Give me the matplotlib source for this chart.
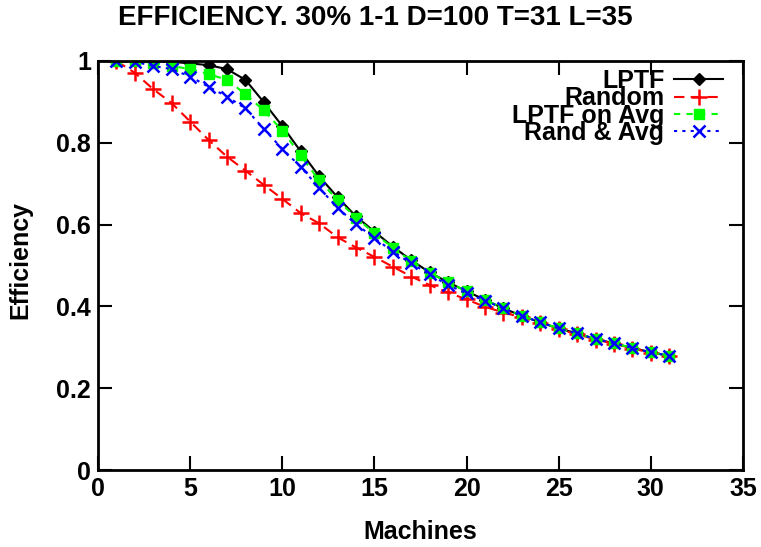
import matplotlib
matplotlib.use("Agg")
import matplotlib.pyplot as plt

machines = list(range(1, 32))

lptf = [1.000, 1.000, 1.000, 0.998, 0.994, 0.990, 0.980, 0.954, 0.899, 0.841,
        0.779, 0.718, 0.667, 0.620, 0.583, 0.546, 0.513, 0.483, 0.459, 0.437,
        0.416, 0.395, 0.377, 0.361, 0.346, 0.334, 0.320, 0.310, 0.298, 0.288,
        0.279]
random_ = [1.000, 0.971, 0.931, 0.897, 0.852, 0.807, 0.766, 0.732, 0.697, 0.663,
           0.628, 0.603, 0.569, 0.544, 0.521, 0.497, 0.473, 0.452, 0.434, 0.417,
           0.399, 0.385, 0.373, 0.359, 0.344, 0.332, 0.319, 0.309, 0.297, 0.287,
           0.278]
lptf_avg = [1.000, 1.000, 0.996, 0.988, 0.980, 0.968, 0.954, 0.919, 0.879, 0.830,
            0.769, 0.708, 0.660, 0.617, 0.579, 0.543, 0.511, 0.482, 0.459, 0.437,
            0.416, 0.395, 0.377, 0.361, 0.346, 0.334, 0.320, 0.310, 0.298, 0.288,
            0.279]
rand_avg = [1.000, 0.998, 0.988, 0.980, 0.962, 0.937, 0.913, 0.884, 0.834, 0.785,
            0.741, 0.690, 0.641, 0.601, 0.567, 0.534, 0.505, 0.478, 0.452, 0.432,
            0.414, 0.395, 0.377, 0.361, 0.346, 0.334, 0.320, 0.310, 0.298, 0.288,
            0.279]

x_ticks = [0, 5, 10, 15, 20, 25, 30, 35]
y_ticks = [0, 0.2, 0.4, 0.6, 0.8, 1]
y_tick_labels = ["0", "0.2", "0.4", "0.6", "0.8", "1"]

plt.rcParams["font.family"] = ["Liberation Sans", "DejaVu Sans"]
plt.rcParams["font.weight"] = "bold"

fig = plt.figure(figsize=(7.61, 5.47), dpi=100)
ax = fig.add_axes([98 / 761, 1 - 470 / 547, (743 - 98) / 761, (470 - 61) / 547])

ax.plot(machines, lptf, color="black", lw=1.5, ls="-", marker="D",
        ms=6, mfc="black", mec="black", label="LPTF")
ax.plot(machines, random_, color="#ff0000", lw=1.5, ls=(0, (5, 3)), marker="+",
        ms=11, mew=1.8, label="Random")
ax.plot(machines, lptf_avg, color="#00ff00", lw=1.5, ls=(0, (3, 3)), marker="s",
        ms=7, mfc="#00ff00", mec="#00ff00", label="LPTF on Avg")
ax.plot(machines, rand_avg, color="#0000ff", lw=1.5, ls=(0, (1.5, 2.5)), marker="x",
        ms=9, mew=1.8, label="Rand & Avg")

ax.set_xlim(0, 35)
ax.set_ylim(0, 1)
ax.set_xticks(x_ticks)
ax.set_yticks(y_ticks)
ax.set_yticklabels(y_tick_labels)
ax.tick_params(direction="in", length=10, width=1.5, top=True, right=True,
               labelsize=18, pad=5)
for sp in ax.spines.values():
    sp.set_linewidth(2)

ax.set_xlabel("Machines", fontsize=18, fontweight="bold", labelpad=14)
ax.set_ylabel("Efficiency", fontsize=18, fontweight="bold")
ax.yaxis.set_label_coords(-0.101, 0.513)
fig.text(0.493, 1 - 18 / 547, "EFFICIENCY. 30% 1-1 D=100 T=31 L=35",
         ha="center", va="center", fontsize=20, fontweight="bold")

leg = ax.legend(loc="upper right", bbox_to_anchor=(0.969, 0.98),
                markerfirst=False, frameon=False,
                fontsize=18, handlelength=1.95, handletextpad=0.4,
                labelspacing=-0.27, borderpad=0.0, borderaxespad=0.0)
for t in leg.get_texts():
    t.set_fontweight("bold")

fig.savefig("out.png", dpi=100)
